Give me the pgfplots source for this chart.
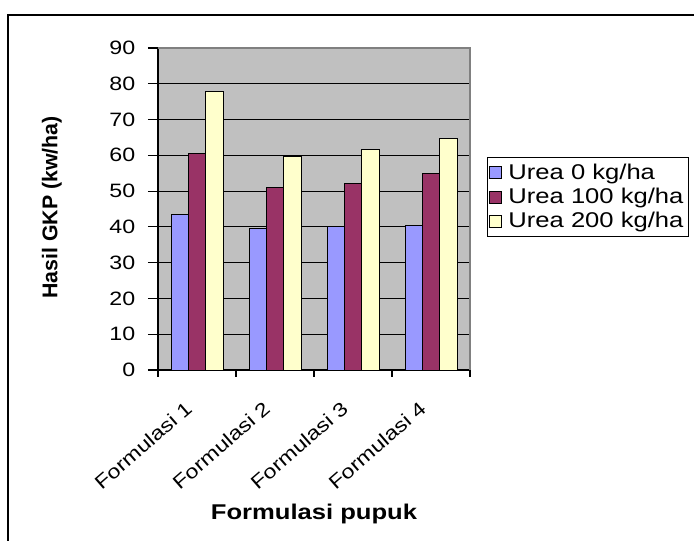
\documentclass[border=0pt]{standalone}
\usepackage{fontspec}
\setmainfont{Liberation Sans}[FakeStretch=1.2]
\newfontfamily\plainfont{Liberation Sans}
\usepackage{pgfplots}
\pgfplotsset{compat=1.18}
\definecolor{cblue}{HTML}{9999FF}
\definecolor{cmaroon}{HTML}{993366}
\definecolor{cyellow}{HTML}{FFFFCC}
\definecolor{cbg}{HTML}{C0C0C0}
\begin{document}
\begin{tikzpicture}
\useasboundingbox (0pt,0pt) rectangle (520.5pt,405.75pt);
\draw[line width=1pt] (6pt,-10pt) -- (6pt,394.5pt) -- (540pt,394.5pt);
\begin{axis}[
  at={(118.5pt,128.25pt)}, anchor=south west,
  scale only axis, width=234pt, height=241.5pt,
  ybar=0pt, bar width=0.222,
  xmin=0.5, xmax=4.5, ymin=0, ymax=90,
  xtick={1,2,3,4},
  xticklabels={Formulasi 1,Formulasi 2,Formulasi 3,Formulasi 4},
  minor xtick={0.5,1.5,2.5,3.5,4.5},
  ytick={0,10,...,90},
  axis background/.style={fill=cbg},
  axis x line*=bottom, axis y line*=left,
  axis line style={black, line width=0.8pt},
  ymajorgrids, grid style={black, line width=0.6pt},
  major x tick style={draw=none},
  minor x tick style={black, line width=0.8pt},
  major y tick style={black, line width=0.8pt},
  tick align=outside,
  major tick length=7.5pt, minor tick length=5pt,
  /pgf/number format/assume math mode=true,
  yticklabel style={font=\fontsize{14.5}{16}\selectfont, xshift=-6pt},
  xticklabel style={font=\fontsize{14.5}{17}\selectfont, rotate=41, anchor=north east, inner sep=1pt, xshift=-16pt, yshift=-4pt},
  xlabel={\bfseries Formulasi pupuk},
  xlabel style={font=\fontsize{16}{18}\selectfont, at={(0.5,-0.447)}, anchor=center},
  ylabel={\plainfont\bfseries Hasil GKP (kw/ha)},
  ylabel style={font=\fontsize{16}{18}\selectfont, at={(-0.34,0.505)}, anchor=center, rotate=0},
  legend style={at={(1.054,0.661)}, anchor=north west, draw=black, fill=white,
     font=\fontsize{16}{18}\selectfont, row sep=1pt, inner xsep=1.5pt, inner ysep=3pt,
     /tikz/every odd column/.append style={column sep=3pt}},
  legend cell align=left,
  legend image code/.code={\draw[#1, draw=black, line width=0.5pt] (0pt,-4.5pt) rectangle (9pt,4.5pt);},
  clip=false,
]
\draw[draw=gray, line width=0.8pt] (rel axis cs:0,1) -- (rel axis cs:1,1) -- (rel axis cs:1,0);
\addplot[fill=cblue, draw=black, line width=0.6pt] coordinates {(1,43.6) (2,39.6) (3,40.0) (4,40.4)};
\addplot[fill=cmaroon, draw=black, line width=0.6pt] coordinates {(1,60.4) (2,51.0) (3,52.2) (4,55.0)};
\addplot[fill=cyellow, draw=black, line width=0.6pt] coordinates {(1,77.8) (2,59.7) (3,61.7) (4,64.8)};
\legend{Urea 0 kg/ha, Urea 100 kg/ha, Urea 200 kg/ha}
\end{axis}
\end{tikzpicture}
\end{document}
